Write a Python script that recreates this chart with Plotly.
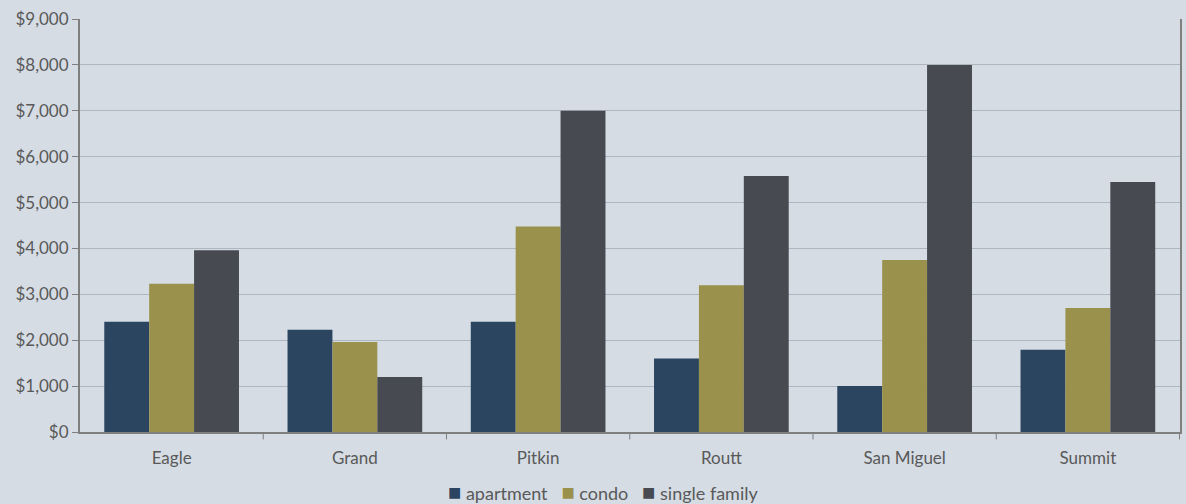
import plotly.graph_objects as go

counties = ["Eagle", "Grand", "Pitkin", "Routt", "San Miguel", "Summit"]
apartment = [2400, 2230, 2400, 1600, 1000, 1790]
condo = [3230, 1960, 4480, 3200, 3750, 2700]
single_family = [3960, 1200, 7000, 5580, 8000, 5450]

series = [
    ("apartment", apartment, "#2b4460"),
    ("condo", condo, "#9a914c"),
    ("single family", single_family, "#474a50"),
]

FONT = "Lato, Open Sans, Liberation Sans, sans-serif"
TXT = "#595959"

fig = go.Figure()
for name, vals, col in series:
    fig.add_trace(go.Bar(
        x=counties, y=vals, name=name,
        marker=dict(color=col, line=dict(width=0)),
    ))

fig.update_layout(
    width=1186, height=504,
    paper_bgcolor="#d5dce4", plot_bgcolor="#d5dce4",
    margin=dict(l=80, r=4, t=19, b=72),
    barmode="group", bargap=0.265, bargroupgap=0,
    font=dict(family=FONT, size=17, color=TXT),
    showlegend=False,
    xaxis=dict(showgrid=False, showline=True, linecolor="#7f7f7f", linewidth=2,
               ticks="", ticklabelstandoff=10, tickfont=dict(size=17, color=TXT)),
    yaxis=dict(range=[0, 9000], dtick=1000, tickprefix="$", tickformat=",d",
               showgrid=True, gridcolor="#aeb6c0", gridwidth=1,
               showline=True, linecolor="#7f7f7f", linewidth=2, mirror=True,
               ticks="outside", ticklen=6, tickcolor="#7f7f7f",
               zeroline=False, tickfont=dict(size=17, color=TXT)),
)

# category boundary tick marks on x axis
for i in range(1, len(counties) + 1):
    fig.add_shape(type="line", xref="x", yref="paper",
                  x0=i - 0.5, x1=i - 0.5, y0=0, y1=-0.018,
                  line=dict(color="#7f7f7f", width=1))

# legend built as text with coloured squares
legend_text = "&nbsp;&nbsp;&nbsp;".join(
    f'<span style="color:{col};font-size:22px">■</span> {name}'
    for name, _, col in series
)
fig.add_annotation(text=legend_text, xref="paper", yref="paper",
                   x=0.4755, y=-0.143, xanchor="center", yanchor="middle",
                   showarrow=False, font=dict(family=FONT, size=18, color=TXT))

fig.write_html("out.html", config={"displayModeBar": False},
               post_script="document.body.style.margin='0';")
